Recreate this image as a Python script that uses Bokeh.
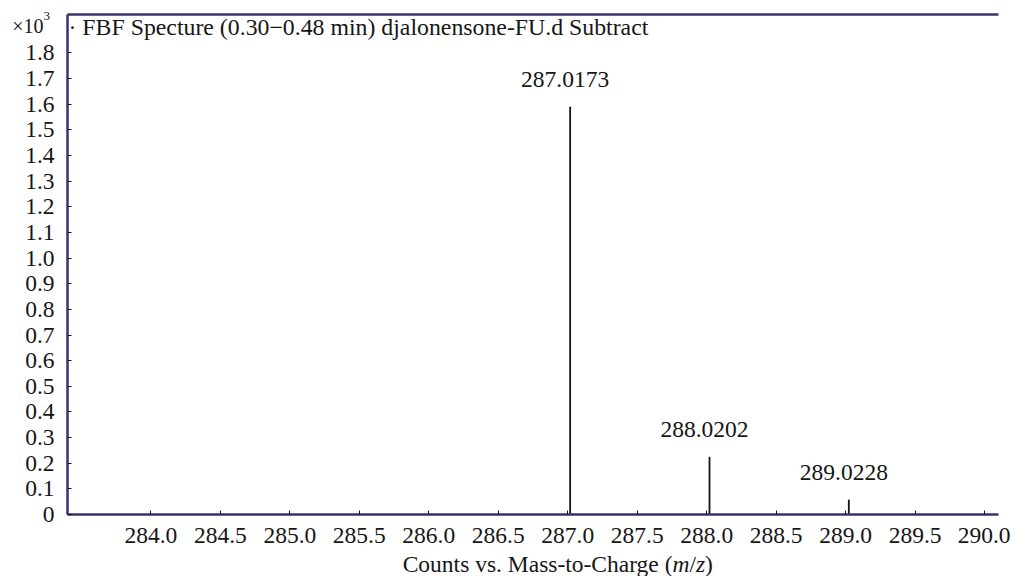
from bokeh.plotting import figure
from bokeh.models import Label, FixedTicker, Range1d, ColumnDataSource, LinearAxis
from bokeh.core.properties import value
from bokeh.embed import file_html
from bokeh.resources import INLINE

# ---- data ----
peak_mz = [287.0173, 288.0202, 289.0228]
peak_height = [1.59, 0.225, 0.058]          # x10^3 counts
peak_labels = ["287.0173", "288.0202", "289.0228"]

x_tick_values = [284.0, 284.5, 285.0, 285.5, 286.0, 286.5, 287.0, 287.5,
                 288.0, 288.5, 289.0, 289.5, 290.0]
x_tick_labels = ["284.0", "284.5", "285.0", "285.5", "286.0", "286.5", "287.0",
                 "287.5", "288.0", "288.5", "289.0", "289.5", "290.0"]
y_tick_values = [0, 0.1, 0.2, 0.3, 0.4, 0.5, 0.6, 0.7, 0.8, 0.9, 1.0,
                 1.1, 1.2, 1.3, 1.4, 1.5, 1.6, 1.7, 1.8]
y_tick_labels = ["0", "0.1", "0.2", "0.3", "0.4", "0.5", "0.6", "0.7", "0.8", "0.9",
                 "1.0", "1.1", "1.2", "1.3", "1.4", "1.5", "1.6", "1.7", "1.8"]

title_text = "\u00b7 FBF Specture (0.30\u22120.48 min) djalonensone-FU.d Subtract"

# ---- layout / style ----
FONT = "'Liberation Serif', 'Times New Roman', serif"
FS = "23.5px"
TXT = "#161616"
FRAME = "#38336a"
X0, X1 = 283.40, 290.10          # plotted m/z window
Y0, Y1 = 0.0, 1.95               # plotted intensity window
W, H = 1010, 576                 # canvas size
PL, PR, PT, PB = 67, 998, 14, 514  # plot-area edges inside canvas (pixels)

kx = (PR - PL) / (X1 - X0)
ky = (PB - PT) / (Y1 - Y0)
xr = Range1d(X0 - PL / kx, X1 + (W - PR) / kx)
yr = Range1d(Y0 - (H - PB) / ky, Y1 + PT / ky)

def px(xp, yp):
    """canvas pixel -> data coordinate"""
    return xr.start + xp / kx, yr.end - yp / ky

p = figure(output_backend="svg", toolbar_location=None,
           frame_width=W, frame_height=H, min_border=0,
           x_range=xr, y_range=yr,
           x_axis_location=None, y_axis_location=None)
p.background_fill_color = "white"
p.border_fill_color = "white"
p.outline_line_color = None
p.grid.visible = False

xaxis = LinearAxis(fixed_location=Y0, bounds=(X0, X1))
yaxis = LinearAxis(fixed_location=X0, bounds=(Y0, Y1))
topaxis = LinearAxis(fixed_location=Y1, bounds=(X0, X1))
for ax in (xaxis, yaxis, topaxis):
    ax.axis_line_color = FRAME
    ax.axis_line_width = 2.5
    ax.major_tick_in = 4
    ax.major_tick_out = 0
    ax.major_tick_line_color = "#111111"
    ax.minor_tick_line_color = None
    ax.major_label_text_font = FONT
    ax.major_label_text_font_size = FS
    ax.major_label_text_color = TXT

xaxis.ticker = FixedTicker(ticks=x_tick_values)
xaxis.major_label_overrides = dict(zip(x_tick_values, x_tick_labels))
xaxis.major_label_standoff = 13
yaxis.ticker = FixedTicker(ticks=y_tick_values)
yaxis.major_label_overrides = dict(zip(y_tick_values, y_tick_labels))
yaxis.major_label_standoff = 13
topaxis.ticker = FixedTicker(ticks=[])
topaxis.major_tick_line_color = None
topaxis.major_label_text_font_size = "0px"

p.add_layout(xaxis, "below")
p.add_layout(yaxis, "left")
p.add_layout(topaxis, "above")

src = ColumnDataSource(dict(x=peak_mz, y=peak_height, lab=peak_labels,
                            y0=[0] * len(peak_mz)))
p.segment(x0="x", y0="y0", x1="x", y1="y", source=src,
          line_color="#141414", line_width=1.8)
p.text(x="x", y="y", text="lab", source=src, text_align="center",
       text_baseline="alphabetic", y_offset=-27, x_offset=-5,
       text_font=value(FONT), text_font_size=FS, text_color=TXT)

# title inside frame
tx, ty = px(68, 26)
p.add_layout(Label(x=tx, y=ty, text=title_text, text_font=FONT,
                   text_font_size="23.8px", text_color=TXT, text_align="left",
                   text_baseline="alphabetic"))

# x10^3 multiplier
mx, my = px(43, 25)
p.add_layout(Label(x=mx, y=my, text="\u00d710", text_font=FONT,
                   text_font_size="20px", text_color=TXT, text_align="right",
                   text_baseline="alphabetic"))
sx, sy = px(43, 15)
p.add_layout(Label(x=sx, y=sy, text="3", text_font=FONT,
                   text_font_size="13px", text_color=TXT, text_align="left",
                   text_baseline="alphabetic"))

# axis label with italic m/z
ax_x, ax_y = px(672, 563)
pieces = [("Counts vs. Mass-to-Charge (", "normal", "right", 0),
          ("m", "italic", "left", 0),
          ("/", "normal", "left", 17),
          ("z", "italic", "left", 23.5),
          (")", "normal", "left", 32.6)]
for t, style, align, off in pieces:
    p.add_layout(Label(x=ax_x, y=ax_y, x_offset=off, text=t, text_font=FONT,
                       text_font_size=FS, text_font_style=style, text_color=TXT,
                       text_align=align, text_baseline="alphabetic"))

open("out.html", "w").write(file_html(p, INLINE))
